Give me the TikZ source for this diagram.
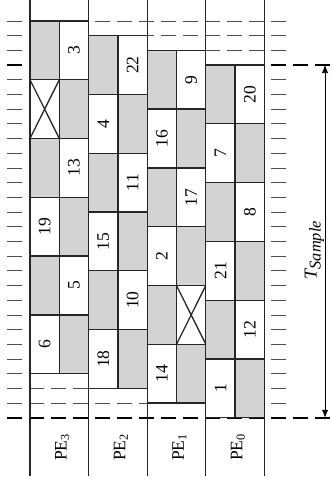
\documentclass[tikz,border=0pt]{standalone}
\usepackage{fontspec}
\setmainfont{Liberation Serif}
\usetikzlibrary{arrows.meta}
\usepackage{xcolor}
\definecolor{cellgray}{RGB}{211,211,211}
\tikzset{
    tickline/.style={
        black!70,
        line width=0.6pt,
        dash pattern=on 4.5mm off 2.1mm
    },
    limitline/.style={
        black,
        line width=1.3pt,
        dash pattern=on 4.5mm off 2.1mm
    },
    colline/.style={
        black!85,
        line width=1.1pt
    },
    cell/.style={
        draw=black!85,
        line width=1.1pt
    },
    busy/.style={
        cell,
        fill=cellgray
    },
    idle/.style={
        cell,
        fill=white
    },
    task/.style={
        rotate=90,
        inner sep=0pt,
        font=\fontsize{15pt}{17pt}\selectfont
    }
}

\begin{document}
\begin{tikzpicture}[x=8.79mm, y=-4.41mm]

      \useasboundingbox (-1.024,-4.422) rectangle (10.307,28.571);

      % time steps
      \foreach \t in {-3,...,23}
        {
          \draw[tickline] (-0.785,\t) -- (8.77,\t);
        }
      \foreach \t in {0,24}
        {
          \draw[limitline] (-0.785,\t) -- (10.307,\t);
        }

      \foreach \i in {0,...,4}
        {
          \draw[colline] (2*\i,-4.422) -- (2*\i,27.96);
        }

      % slots of each processor
      \foreach \i in {0,...,3}
        \foreach \r in {0,...,5}
          {
            \pgfmathsetmacro\ty{\i-3+4*\r}
            \pgfmathsetmacro\gx{2*\i+mod(\r,2)}
            \pgfmathsetmacro\wx{2*\i+1-mod(\r,2)}
            \draw[busy] (\gx,\ty) rectangle ++(1,4);
            \draw[idle] (\wx,\ty) rectangle ++(1,4);
          }

      \foreach \i/\r/\n in {
          0/0/3, 0/2/13, 0/3/19, 0/4/5, 0/5/6,
          1/0/22, 1/1/4, 1/2/11, 1/3/15, 1/4/10, 1/5/18,
          2/0/9, 2/1/16, 2/2/17, 2/3/2, 2/5/14,
          3/0/20, 3/1/7, 3/2/8, 3/3/21, 3/4/12, 3/5/1}
        {
          \pgfmathsetmacro\ty{\i-1+4*\r}
          \pgfmathsetmacro\wx{2*\i+1.5-mod(\r,2)}
          \node[task] (t\n) at (\wx,\ty) {\n};
        }

      % empty slots
      \foreach \i/\r in {0/1, 2/4}
        {
          \pgfmathsetmacro\ty{\i-3+4*\r}
          \pgfmathsetmacro\wx{2*\i+1-mod(\r,2)}
          \draw[cell] (\wx,\ty) -- ++(1,4) (\wx+1,\ty) -- ++(-1,4);
        }

      \foreach \i/\p in {0/3, 1/2, 2/1, 3/0}
        {
          \node[task] (pe\p) at (2*\i+1.1,26.0) {PE\textsubscript{\p}};
        }

      \coordinate (ttop) at (10.07,0);
      \coordinate (tbot) at (10.07,24);
      \draw[{Latex[length=2.4mm,width=1.9mm]}-{Latex[length=2.4mm,width=1.9mm]}, line width=0.6pt] (ttop) -- (tbot);
      \node[rotate=90, anchor=south, inner sep=0.6pt] (tsample) at (10.07,12.6)
        {\fontsize{15.5pt}{18pt}\selectfont\itshape T\raisebox{-3.5pt}{\fontsize{14pt}{16pt}\selectfont Sample}};

    \end{tikzpicture}
\end{document}
